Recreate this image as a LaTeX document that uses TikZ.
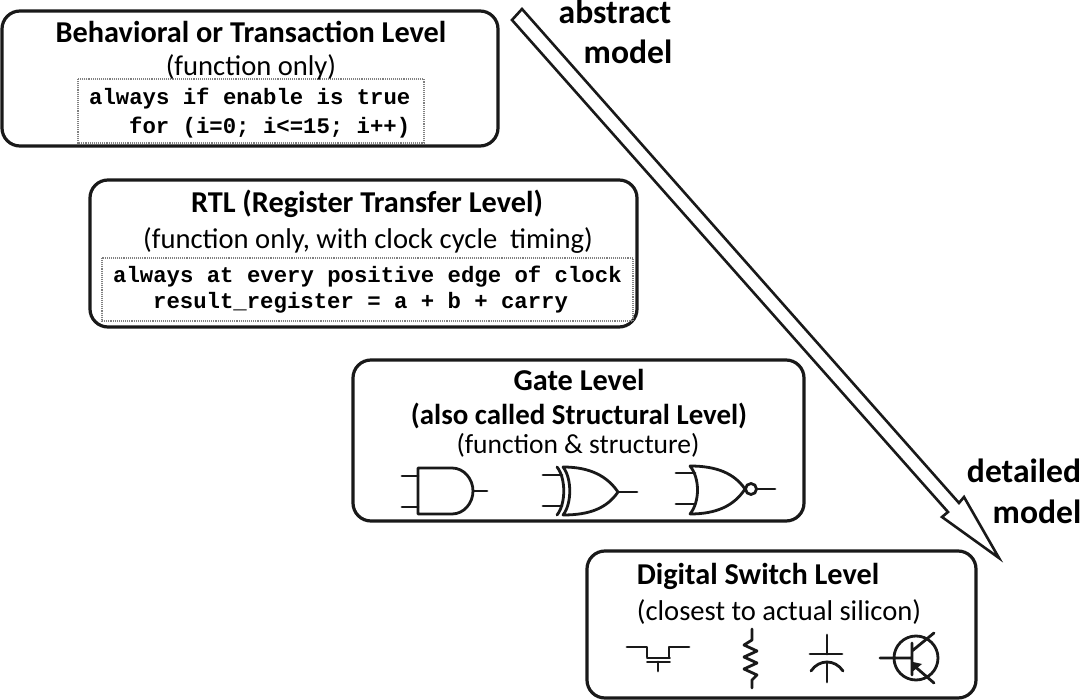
\documentclass[tikz,border=0pt]{standalone}
\usepackage{fontspec}
\setmainfont{Carlito}
\setmonofont{Liberation Mono}
\begin{document}
\begin{tikzpicture}[x=1pt,y=-1pt,
  levelbox/.style={draw=black!90,line width=3.2pt,rounded corners=18pt},
  codebox/.style={draw=black!50,line width=1.1pt,densely dotted},
  sym/.style={draw=black!90,line width=2.8pt,line cap=round,line join=round},
  hd/.style={inner sep=0pt,font=\fontsize{30.3}{33}\selectfont\bfseries,anchor=base},
  sub/.style={inner sep=0pt,font=\fontsize{28.6}{32}\selectfont,anchor=base},
  code/.style={inner sep=0pt,font=\fontsize{22.3}{24}\ttfamily\bfseries\selectfont,anchor=base west},
  side/.style={inner sep=0pt,font=\fontsize{33.6}{38}\selectfont\bfseries,anchor=base}]
\useasboundingbox (0,0) rectangle (1080,700);
\fill[white] (0,0) rectangle (1080,700);
% boxes
\draw[levelbox] (2,11) rectangle (498,146);
\draw[levelbox] (90,180) rectangle (637,327);
\draw[levelbox] (353,360) rectangle (804,521);
\draw[levelbox] (587,551) rectangle (976,698);
\draw[codebox] (78,79) rectangle (424,143);
\draw[codebox] (102,258) rectangle (633,321);
% box 1
\node[hd] (t1) at (251,43) {Behavioral or Transaction Level};
\node[sub] (s1) at (251,76) {(function only)};
\node[code] (c1a) at (89,105) {always if enable is true};
\node[code] (c1b) at (129,134) {for (i=0; i<=15; i++)};
% box 2
\node[hd] (t2) at (367,213) {RTL (Register Transfer Level)};
\node[sub] (s2) at (368,249) {(function only, with clock cycle\ \ timing)};
\node[code] (c2a) at (113,283) {always at every positive edge of clock};
\node[code] (c2b) at (153,309) {result\_register = a + b + carry};
% box 3
\node[hd] (t3) at (579,391) {Gate Level};
\node[hd,font=\fontsize{28.9}{32}\selectfont\bfseries] (t3b) at (579,425) {(also called Structural Level)};
\node[sub,font=\fontsize{27.5}{32}\selectfont] (s3) at (578,454) {(function \& structure)};
% box 4
\node[hd] (t4) at (758,585) {Digital Switch Level};
\node[sub] (s4) at (779,620) {(closest to actual silicon)};
% side labels
\node[side] (a1) at (615,24) {abstract};
\node[side] (a2) at (628,64) {model};
\node[side] (d1) at (1024,483) {detailed};
\node[side] (d2) at (1037,524) {model};
% big arrow
\draw[draw=black!90,line width=2.6pt,line join=miter,fill=white]
  (512,20) -- (522,9) -- (959,503) -- (964,497) -- (999,558) -- (942,517) -- (948,512) -- cycle;
% AND
\draw[sym] (402,476) -- (418,476) (402,507) -- (418,507) (473,491) -- (487,491);
\draw[sym] (452,468) -- (418,468) -- (418,514) -- (452,514) .. controls (464,514) and (473,503) .. (473,491) .. controls (473,479) and (464,468) .. (452,468);
% XOR
\draw[sym] (543,475) -- (562,475) (543,506) -- (562,506) (618,492) -- (637,492);
\draw[sym] (557,467) .. controls (566,478) and (566,504) .. (557,515);
\draw[sym] (563,467) .. controls (572,478) and (572,504) .. (563,515)
  .. controls (590,515) and (607,508) .. (618,492) .. controls (607,476) and (590,467) .. (563,467);
% NOR
\draw[sym] (676,473) -- (695,473) (676,504) -- (695,504) (757,489) -- (775,489);
\draw[sym] (690,466) .. controls (700,478) and (700,502) .. (690,514)
  .. controls (716,514) and (734,506) .. (745,489) .. controls (734,473) and (716,466) .. (690,466);
\draw[sym] (751,489) circle (5.5);
% MOS switch
\draw[sym] (627,647) -- (647,647) -- (647,657) (689,647) -- (669,647) -- (669,657);
\draw[sym,line width=1.8pt] (647,658) -- (670,658) (647,662) -- (670,662);
\draw[sym] (658,662) -- (658,671);
% resistor
\draw[sym] (752,629) -- (752,640) -- (744,645) -- (757,651) -- (744,657) -- (757,663) -- (744,669) -- (757,675) -- (752,680) -- (752,688);
% capacitor
\draw[sym] (827,635) -- (827,654) (810,654) -- (842,654) (827,662) -- (827,682);
\draw[sym] (811,671) .. controls (815,665) and (821,662) .. (827,662) .. controls (833,662) and (839,665) .. (843,671);
% transistor
\draw[sym] (916,658) circle (22);
\draw[sym] (880,658) -- (912,658) (912,643) -- (912,675) (912,651) -- (934,633) (912,664) -- (934,683);
\fill[black!90] (912,672) -- (913,662) -- (922,664) -- cycle;
\end{tikzpicture}
\end{document}
